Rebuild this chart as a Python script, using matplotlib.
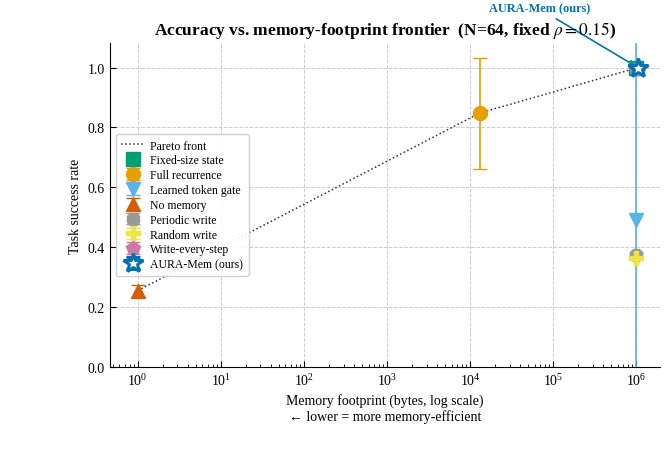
import matplotlib
matplotlib.use("Agg")
import matplotlib.pyplot as plt
import numpy as np

plt.rcParams['font.family'] = ['Liberation Serif', 'DejaVu Serif']
plt.rcParams['mathtext.fontset'] = 'stix'

methods = ["Fixed-size state", "Full recurrence", "Learned token gate", "No memory",
           "Periodic write", "Random write", "Write-every-step", "AURA-Mem (ours)"]
footprint = [1.0e6, 1.3e4, 1.0e6, 1.0, 1.0e6, 1.0e6, 1.0e6, 1.05e6]
success = [1.0, 0.848, 0.49, 0.255, 0.375, 0.365, 0.995, 1.0]
errors = [0.005, 0.185, 0.75, 0.02, 0.005, 0.005, 0.005, 0.005]
colors = ["#009E73", "#E69F00", "#56B4E9", "#D55E00", "#999999", "#F0E442", "#CC79A7", "#0072B2"]
markers = ["s", "o", "v", "^", "8", "P", "p", "*"]

pareto_x = [1.0, 1.3e4, 1.05e6]
pareto_y = [0.255, 0.848, 1.0]

fig = plt.figure(figsize=(6.69, 4.56), dpi=100)
ax = fig.add_axes([0.164, 0.193, 0.823, 0.711])

ax.plot(pareto_x, pareto_y, linestyle=':', color='#333333', lw=1.1, label='Pareto front', zorder=2)

for m, x, y, e, c, mk in zip(methods, footprint, success, errors, colors, markers):
    if mk == '*':
        ax.errorbar([x], [y], yerr=[e], fmt=mk, color=c, ms=15, mfc='white', mec=c,
                    mew=2.2, ecolor=c, capsize=5, elinewidth=1.2, label=m, zorder=5)
    else:
        ax.errorbar([x], [y], yerr=[e], fmt=mk, color=c, ms=10, ecolor=c, capsize=5,
                    elinewidth=1.2, label=m, zorder=3)

ax.set_xscale('log')
ax.set_xlim(0.46, 1.95e6)
ax.set_ylim(0.0, 1.083)
ax.set_yticks([0.0, 0.2, 0.4, 0.6, 0.8, 1.0])
ax.grid(True, which='major', linestyle='--', color='#cccccc', lw=0.7)
ax.spines['top'].set_visible(False)
ax.spines['right'].set_visible(False)
ax.tick_params(direction='in', which='both', labelsize=10)
ax.tick_params(which='major', length=4)
ax.tick_params(which='minor', length=2)

ax.set_xlabel("Memory footprint (bytes, log scale)\n\u2190 lower = more memory-efficient", fontsize=10)
ax.set_ylabel("Task success rate", fontsize=10)
ax.set_title(r"Accuracy vs. memory-footprint frontier  (N=64, fixed $\rho=0.15$)",
             fontsize=12.5, fontweight='bold', pad=6)

ax.annotate("AURA-Mem (ours)", xy=(1.05e6, 1.0), xytext=(6.8e4, 1.197),
            fontsize=8.8, fontweight='bold', color='#0072B2', ha='center', va='center',
            arrowprops=dict(arrowstyle='->', color='#0072B2', lw=1.2),
            annotation_clip=False)

ax.legend(loc='center left', fontsize=8.5, frameon=True, framealpha=0.9, edgecolor='#cccccc',
          borderpad=0.45, labelspacing=0.24, handletextpad=0.5, bbox_to_anchor=(0.0, 0.5))

fig.savefig("out.png", dpi=100)
